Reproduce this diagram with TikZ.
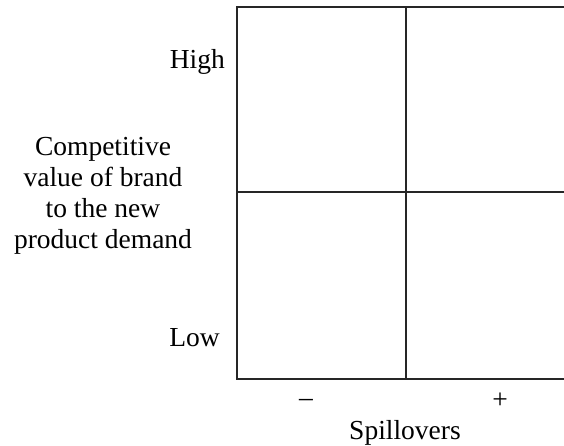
\documentclass[tikz,border=0pt]{standalone}
\usepackage{fontspec}
\setmainfont{Liberation Serif}
\begin{document}
\begin{tikzpicture}[x=1pt,y=1pt,
  lbl/.style={font=\fontsize{27.5}{31}\selectfont, inner sep=0pt},
  gridline/.style={line width=1.8pt, black!85}]
\useasboundingbox (0,0) rectangle (564,446);
\begin{scope}
\clip (0,0) rectangle (564,446);
\coordinate (tl) at (237,439);
\coordinate (bl) at (237,67);
\coordinate (ml) at (237,254);
\coordinate (tm) at (406,439);
\coordinate (bm) at (406,67);
\coordinate (tr) at (600,439);
\coordinate (br) at (600,67);
\coordinate (mr) at (600,254);
\draw[gridline] (tr) -- (tl) -- (bl) -- (br);
\draw[gridline] (tm) -- (bm);
\draw[gridline] (ml) -- (mr);
\end{scope}
\node[lbl, anchor=base east] (high) at (225,377) {High};
\node[lbl, anchor=base east] (low) at (220,99) {Low};
\node[lbl, align=center, anchor=base] (cv) at (103,197) {Competitive\\value of brand\\to the new\\product demand};
\node[lbl] (minus) at (306,43) {–};
\node[lbl] (plus) at (500,45) {+};
\node[lbl, anchor=base] (spill) at (405,6) {Spillovers};
\end{tikzpicture}
\end{document}
